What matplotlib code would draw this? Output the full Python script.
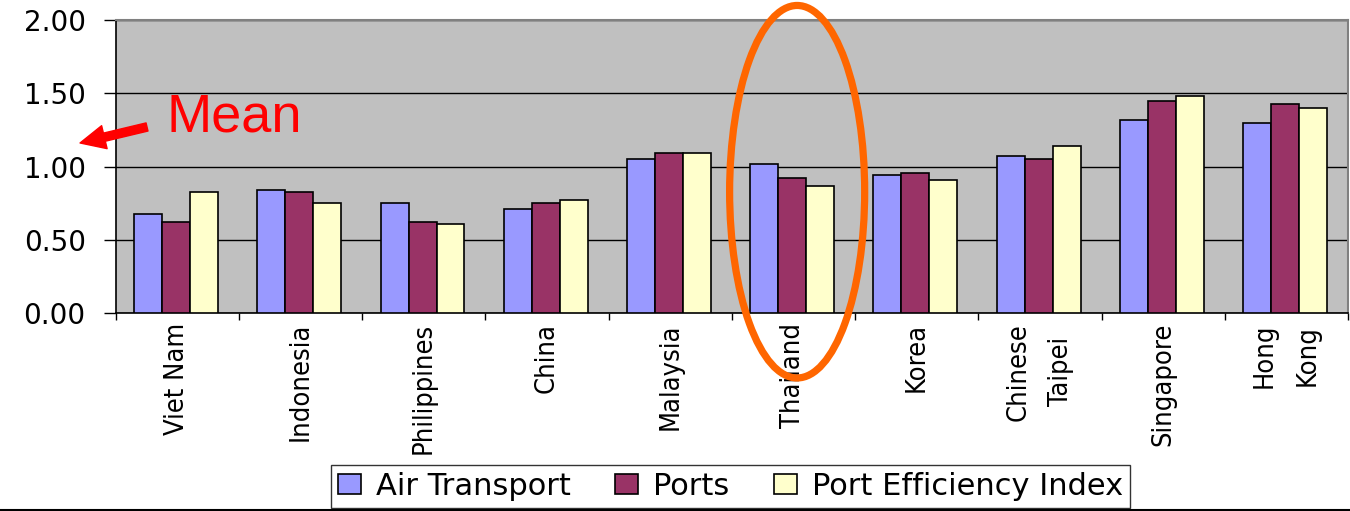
import matplotlib
matplotlib.use("Agg")
import matplotlib.pyplot as plt
from matplotlib import font_manager
from matplotlib.patches import Ellipse
from matplotlib.lines import Line2D
import numpy as np

categories = ["Viet Nam", "Indonesia", "Philippines", "China", "Malaysia",
              "Thailand", "Korea", "Chinese\nTaipei", "Singapore", "Hong\nKong"]
air_transport = [0.68, 0.84, 0.75, 0.71, 1.05, 1.02, 0.94, 1.07, 1.32, 1.30]
ports = [0.62, 0.83, 0.62, 0.75, 1.09, 0.92, 0.96, 1.05, 1.45, 1.43]
port_efficiency = [0.83, 0.75, 0.61, 0.77, 1.09, 0.87, 0.91, 1.14, 1.48, 1.40]
series_names = ["Air Transport", "Ports", "Port Efficiency Index"]
series_colors = ["#9999FF", "#993366", "#FFFFCC"]
y_ticks = [0.0, 0.5, 1.0, 1.5, 2.0]
y_tick_labels = ["0.00", "0.50", "1.00", "1.50", "2.00"]

# Pick a condensed face for the category labels if one is installed
cond_fp = font_manager.FontProperties(family="DejaVu Sans", stretch="condensed")
cond_file = font_manager.findfont(cond_fp)
is_condensed = "ondensed" in cond_file
xlabel_size = 19.5 if is_condensed else 17

fig = plt.figure(figsize=(13.5, 5.11), dpi=100)
ax = fig.add_axes([0.0857, 0.3869, 0.9128, 0.5740])
ax.set_facecolor("#C0C0C0")

x = np.arange(len(categories))
bw = 0.227
for j, (vals, name, col) in enumerate(zip([air_transport, ports, port_efficiency],
                                          series_names, series_colors)):
    ax.bar(x + (j - 1) * bw - 0.01, vals, width=bw, color=col, edgecolor="black",
           linewidth=1.2, label=name, zorder=3)

ax.set_xlim(-0.5, len(categories) - 0.5)
ax.set_ylim(0, 2.0)
ax.set_yticks(y_ticks)
ax.set_yticklabels(y_tick_labels, fontsize=20, family="DejaVu Sans")
ax.tick_params(axis="y", direction="out", length=8.6, width=1, pad=13, color="black")
ax.yaxis.grid(True, color="black", linewidth=1, zorder=1)
ax.set_axisbelow(True)

ax.set_xticks(np.arange(-0.5, len(categories), 1.0))
ax.set_xticklabels([])
ax.tick_params(axis="x", which="major", direction="out", length=5, width=1, color="black")
ax.set_xticks(x, minor=True)
ax.set_xticklabels(categories, minor=True, rotation=90, fontsize=xlabel_size,
                   family="DejaVu Sans", fontstretch="condensed",
                   linespacing=1.85 if is_condensed else 2.0,
                   multialignment="center")
ax.tick_params(axis="x", which="minor", length=0, pad=7)

for s in ["top", "right"]:
    ax.spines[s].set_color("#808080")
    ax.spines[s].set_linewidth(1.5)
for s in ["left", "bottom"]:
    ax.spines[s].set_color("black")
    ax.spines[s].set_linewidth(1.2)

# Highlight ellipse around Thailand
ell = Ellipse((5.03, 0.829), width=1.096, height=2.54, fill=False,
              edgecolor="#FF6600", linewidth=5.2, clip_on=False, zorder=10)
ax.add_patch(ell)

leg = fig.legend(loc="center", bbox_to_anchor=(0.541, 0.048), ncol=3,
                 frameon=True, fancybox=False, edgecolor="black",
                 prop={"family": "DejaVu Sans", "size": 22},
                 handlelength=0.75, handleheight=0.6, handletextpad=0.5,
                 columnspacing=1.45, borderpad=0.22)
leg.get_frame().set_linewidth(1.0)

# "Mean" annotation
fig.text(0.1237, 0.7417, "Mean", color="red", fontsize=39,
         family="Liberation Sans", va="baseline", ha="left")
ax.annotate("", xy=(0.0593, 0.7202), xycoords="figure fraction",
            xytext=(0.1089, 0.7515), textcoords="figure fraction",
            arrowprops=dict(facecolor="red", edgecolor="red", width=6,
                            headwidth=17, headlength=18, shrink=0))

fig.add_artist(Line2D([0, 1], [0.0025, 0.0025], transform=fig.transFigure,
                      color="black", linewidth=1.5))

fig.savefig("out.png", dpi=100)
